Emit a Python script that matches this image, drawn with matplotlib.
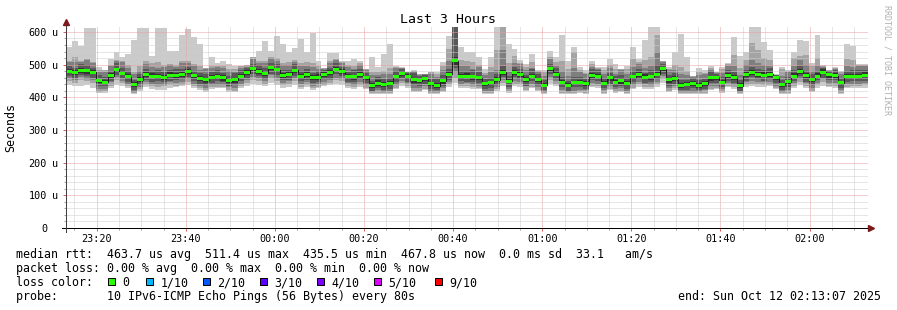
import numpy as np
import matplotlib
matplotlib.use("Agg")
import matplotlib.pyplot as plt
import matplotlib.dates as mdates
from matplotlib.patches import Rectangle
from matplotlib.ticker import MultipleLocator
from matplotlib.transforms import blended_transform_factory

plt.rcParams['font.family'] = ['DejaVu Sans Mono']

# ---------------- data ----------------
title = "Last 3 Hours"
start_time = np.datetime64("2025-10-11T23:13:07")
step_seconds = 80

median = [480,477,482,481,476,451,446,466,485,474,463,440,453,470,465,464,461,468,468,470,478,466,456,
          453,461,465,459,451,453,465,475,487,479,473,490,484,466,470,482,463,469,461,461,471,475,486,
          478,463,463,469,459,437,443,439,443,463,472,463,453,450,456,441,436,451,471,511,464,465,463,
          459,441,445,453,477,449,476,469,453,465,453,437,487,471,446,436,445,445,441,468,465,443,459,
          445,451,443,463,469,461,463,471,487,453,456,437,439,443,436,441,459,459,446,468,459,436,469,
          476,469,468,471,459,438,447,465,480,466,453,465,477,469,466,444,465,463,465,468]

# the ten sorted pings of every step (ping1 = fastest, ping10 = slowest)
ping1 = [437,433,435,437,429,413,414,427,437,433, 429,410,420,431,425,422,421,429,431,433,
         437,427,423,417,426,427,427,417,416,429, 435,442,437,433,445,439,429,432,437,425,
         431,423,427,435,437,442,437,427,426,432, 425,410,410,410,410,425,435,429,416,415,
         422,410,410,415,431,445,427,429,426,424, 410,410,420,435,414,435,432,419,428,418,
         410,441,433,410,410,410,413,410,431,429, 410,422,412,415,410,425,431,425,426,431,
         443,416,423,410,410,410,410,410,422,424, 412,431,425,410,431,435,431,431,433,424,
         410,410,429,437,429,415,427,435,431,429, 410,427,427,429,429]
ping2 = [450,444,453,449,445,417,418,436,452,443, 433,414,424,438,434,430,433,438,435,439,
         448,433,427,421,430,431,431,421,420,434, 445,454,450,441,459,450,438,440,449,432,
         439,428,432,439,444,452,450,433,430,438, 429,414,414,414,414,429,444,433,420,419,
         426,414,414,419,440,460,436,435,430,428, 414,414,424,445,418,442,441,423,432,422,
         414,454,442,414,414,414,417,414,435,434, 414,426,416,419,414,429,441,431,430,440,
         457,420,427,414,414,414,414,414,426,428, 416,435,430,414,438,442,441,438,438,428,
         414,414,436,448,435,419,437,447,436,435, 414,432,434,433,437]
ping3 = [458,452,461,457,453,425,424,446,461,451, 441,417,432,446,442,438,439,448,444,447,
         456,441,435,429,438,439,437,431,429,442, 453,462,458,449,467,458,444,450,458,440,
         447,436,440,447,452,460,456,443,439,446, 437,417,422,417,420,437,450,443,429,427,
         434,417,417,427,448,476,442,445,439,436, 419,420,432,453,426,450,447,433,441,430,
         417,462,450,422,417,419,423,421,444,442, 421,434,424,427,420,437,447,441,439,448,
         465,428,435,417,417,417,417,421,435,436, 424,443,438,417,446,450,447,448,447,436,
         417,422,444,456,443,427,443,457,445,443, 422,440,442,441,445]
ping4 = [465,460,468,465,458,436,433,449,469,460, 448,423,439,454,447,449,448,451,452,456,
         463,449,442,437,443,450,446,434,437,451, 460,470,465,457,472,469,453,453,466,449,
         454,444,447,455,457,471,465,446,447,455, 444,420,429,423,425,448,459,446,437,436,
         441,424,422,435,453,490,451,448,447,445, 426,428,439,461,431,461,456,436,449,439,
         422,470,457,430,420,430,432,424,452,451, 428,442,431,435,425,448,456,444,447,457,
         472,436,442,421,421,428,423,424,443,445, 431,451,445,420,451,461,456,451,455,445,
         423,430,451,464,448,438,452,460,453,452, 429,448,449,449,450]
ping5 = [474,469,475,472,470,444,438,460,476,467, 457,432,446,461,459,457,453,462,459,463,
         472,458,449,444,455,458,451,445,444,458, 469,479,472,464,484,477,458,464,473,456,
         463,453,454,462,469,479,470,457,454,462, 453,429,436,430,437,456,464,457,444,443,
         450,433,429,442,465,500,456,459,454,452, 435,437,446,468,443,469,461,447,456,446,
         431,479,464,437,430,438,437,435,459,458, 437,451,438,442,437,456,461,455,454,464,
         481,445,449,428,433,436,428,435,450,452, 440,460,452,427,463,469,461,462,462,452,
         432,439,458,471,460,446,457,471,460,459, 438,457,456,456,462]
ping6 = [487,483,491,488,484,457,454,475,491,481, 470,446,462,477,473,470,469,477,474,477,
         485,472,465,460,469,471,467,460,459,472, 482,493,488,480,498,490,474,479,488,470,
         476,467,470,478,483,492,486,472,469,476, 466,443,452,446,451,469,480,472,459,457,
         463,447,445,458,479,522,472,474,469,466, 448,451,462,484,457,482,477,462,471,460,
         444,493,480,453,444,451,453,450,474,472, 450,465,454,458,451,469,477,470,469,478,
         494,459,465,444,447,449,444,450,465,466, 453,474,468,443,477,482,477,477,477,466,
         445,453,474,487,474,459,473,486,475,473, 451,471,472,472,476]
ping7 = [496,491,501,498,491,469,462,480,505,491, 479,454,472,487,480,482,477,482,488,487,
         494,480,475,470,476,483,475,465,473,482, 491,501,498,490,505,502,482,484,502,480,
         485,475,480,484,490,504,494,477,483,486, 475,451,462,456,458,481,488,474,473,465,
         467,455,455,468,486,615,480,479,483,476, 457,459,472,495,464,494,485,467,485,470,
         453,501,490,463,451,463,461,455,488,482, 459,473,464,468,458,481,485,475,483,500,
         503,467,475,454,454,460,452,455,479,471, 462,482,478,453,484,494,485,482,491,467,
         454,461,484,497,481,471,481,491,479,483, 460,479,482,482,483]
ping8 = [508,508,508,514,505,478,478,496,510,508, 491,471,479,503,494,491,493,498,493,504,
         506,497,482,486,490,492,491,481,478,490, 494,518,505,506,519,511,498,500,507,497,
         497,492,487,487,504,513,505,493,488,500, 482,468,469,472,472,490,489,476,478,468,
         470,472,462,484,510,615,496,495,488,493, 469,476,484,545,478,505,501,483,490,478,
         465,518,497,479,465,490,477,471,493,488, 471,490,471,482,472,492,501,491,495,540,
         507,484,482,470,468,463,468,471,484,474, 474,496,495,469,498,515,505,498,497,468,
         466,476,495,513,500,480,497,494,481,488, 472,496,492,495,495]
ping9 = [512,522,512,518,509,482,482,500,514,512, 500,478,495,512,505,508,500,503,500,510,
         512,503,495,490,497,496,496,488,485,495, 498,522,512,510,523,520,506,508,515,505,
         507,505,495,489,510,518,509,498,497,506, 485,478,478,480,490,494,491,477,480,470,
         471,476,472,495,548,615,515,510,508,500, 475,492,546,615,505,525,506,492,508,481,
         477,524,508,510,485,540,482,475,503,491, 482,500,488,485,486,518,507,515,522,589,
         510,488,500,492,480,465,478,475,490,476, 485,501,530,490,515,565,545,520,515,469,
         485,481,520,525,530,495,520,497,482,491, 476,518,515,499,499]
ping10 = [553,573,558,612,612,494,482,517,537,522, 532,575,612,612,527,612,612,543,543,592,
          609,583,563,490,522,504,512,502,497,497, 500,524,543,571,543,588,563,537,551,579,
          537,597,510,490,535,535,512,512,517,512, 487,522,492,532,563,497,492,477,482,471,
          472,477,477,507,588,615,553,537,537,522, 487,522,615,615,563,548,514,502,533,482,
          482,543,522,589,512,555,492,482,512,492, 492,517,502,487,497,553,517,574,615,615,
          512,492,538,594,522,466,490,482,497,477, 492,504,584,527,537,615,615,568,545,470,
          494,484,538,574,572,504,591,498,483,492, 481,563,558,501,501]

y_ticks = [0, 100, 200, 300, 400, 500, 600]
y_tick_numbers = ["0", "100", "200", "300", "400", "500", "600"]
y_unit = "u"
y_label = "Seconds"

legend_line1 = "median rtt:  463.7 us avg  511.4 us max  435.5 us min  467.8 us now  0.0 ms sd  33.1   am/s"
legend_line2 = "packet loss: 0.00 % avg  0.00 % max  0.00 % min  0.00 % now"
legend_line3 = "loss color:"
legend_line4 = "probe:       10 IPv6-ICMP Echo Pings (56 Bytes) every 80s"
end_text = "end: Sun Oct 12 02:13:07 2025"
watermark = "RRDTOOL / TOBI OETIKER"
loss_labels = ["0", "1/10", "2/10", "3/10", "4/10", "5/10", "9/10"]
loss_colors = ["#26ff00", "#00b8ff", "#0059ff", "#5e00ff", "#7e00ff", "#dd00ff", "#ff0000"]

# ---------------- layout / style ----------------
W, H = 897, 310
L, R, B, T = 66, 868, 228, 27
Y_MAX = 615
smoke_colors = ["#cacaca", "#a4a4a4", "#7e7e7e", "#585858", "#323232"]
median_halfwidth = 4.6
grid_minor = "#cfcfcf"
grid_major = "#eaa0a0"
arrow_col = "#7a1a1a"
PX = 0.72  # one pixel in points

fig = plt.figure(figsize=(W / 100, H / 100), dpi=100)
fig.patch.set_facecolor("white")
ax = fig.add_axes([L / W, 1 - B / H, (R - L) / W, (B - T) / H])
ax.set_facecolor("white")

edges = start_time + np.arange(len(median) + 1) * np.timedelta64(step_seconds, "s")
xe = mdates.date2num(edges)

pings = [np.array(p, float) for p in (ping1, ping2, ping3, ping4, ping5,
                                      ping6, ping7, ping8, ping9, ping10)]
for k in range(5):
    ax.stairs(pings[9 - k], xe, baseline=pings[k], fill=True,
              color=smoke_colors[k], lw=0, zorder=1)

med = np.array(median, float)
ax.stairs(med, xe, baseline=None, color="#202020", lw=PX, zorder=3)
ax.stairs(med + median_halfwidth, xe, baseline=med - median_halfwidth, fill=True,
          color=loss_colors[0], lw=0, zorder=3.1)

ax.set_xlim(xe[0], xe[-1])
ax.set_ylim(0, Y_MAX)

ax.xaxis.set_major_locator(mdates.MinuteLocator(byminute=[0, 20, 40]))
ax.xaxis.set_minor_locator(mdates.MinuteLocator(byminute=range(0, 60, 5)))
ax.xaxis.set_major_formatter(mdates.DateFormatter("%H:%M"))
ax.set_yticks(y_ticks)
ax.set_yticklabels(y_tick_numbers)
ax.yaxis.set_minor_locator(MultipleLocator(20))

ax.set_axisbelow(False)
ax.grid(which="minor", color=grid_minor, linestyle=(0, (1, 1)), linewidth=PX)
ax.grid(which="major", color=grid_major, linestyle=(0, (1, 1)), linewidth=PX)

for s in ax.spines.values():
    s.set_visible(False)

ax.tick_params(axis="x", which="major", length=3 * PX, width=PX, color="#e06060",
               labelsize=7.3, pad=2.4, direction="out")
ax.tick_params(axis="x", which="minor", length=2 * PX, width=PX, color="#a0a0a0",
               direction="out")
ax.tick_params(axis="y", which="major", length=3 * PX, width=PX, color="#e06060",
               labelsize=7.3, pad=11.5, direction="out")
ax.tick_params(axis="y", which="minor", length=2 * PX, width=PX, color="#a0a0a0",
               direction="out")

btr = blended_transform_factory(ax.transAxes, ax.transData)
for v, n in zip(y_ticks, y_tick_numbers):
    if v != 0:
        ax.text(-(L - 52) / (R - L), v, y_unit, transform=btr, ha="left",
                va="center_baseline", fontsize=7.3)

# axis lines + arrows
ax.plot([-4 / (R - L), 1 + 1 / (R - L)], [0, 0], transform=ax.transAxes,
        color="black", lw=PX, clip_on=False, zorder=5)
ax.plot([0, 0], [-4 / (B - T), 1 + 3 / (B - T)], transform=ax.transAxes,
        color="#404040", lw=PX, clip_on=False, zorder=5)
ax.plot([0], [1 + 5 / (B - T)], marker="^", ms=4.5, color=arrow_col,
        transform=ax.transAxes, clip_on=False, zorder=6)
ax.plot([1 + 3 / (R - L)], [0], marker=">", ms=4.5, color=arrow_col,
        transform=ax.transAxes, clip_on=False, zorder=6)

# texts
fig.text(448 / W, 1 - 23 / H, title, ha="center", va="baseline", fontsize=9.5)
fig.text(11 / W, 1 - 127 / H, y_label, rotation=90, ha="center", va="center", fontsize=8.4)
fig.text(887 / W, 1 - 60 / H, watermark, rotation=270, ha="center", va="center",
         fontsize=6, color="#b0b0b0")

lx = 16 / W
fig.text(lx, 1 - 258 / H, legend_line1, ha="left", va="baseline", fontsize=8.4)
fig.text(lx, 1 - 272 / H, legend_line2, ha="left", va="baseline", fontsize=8.4)
fig.text(lx, 1 - 286 / H, legend_line3, ha="left", va="baseline", fontsize=8.4)
fig.text(lx, 1 - 300 / H, legend_line4, ha="left", va="baseline", fontsize=8.4)
fig.text(881 / W, 1 - 300 / H, end_text, ha="right", va="baseline", fontsize=8.4)

sq_x = [108, 146, 203, 260, 317, 374, 435]
for sx, lab, col in zip(sq_x, loss_labels, loss_colors):
    fig.add_artist(Rectangle((sx / W, 1 - 285 / H), 7 / W, 7 / H, transform=fig.transFigure,
                             facecolor=col, edgecolor="black", lw=PX))
    fig.text((sx + 14.5) / W, 1 - 286 / H, lab, ha="left", va="baseline", fontsize=8.4)

fig.savefig("out.png", dpi=100, facecolor="white")
